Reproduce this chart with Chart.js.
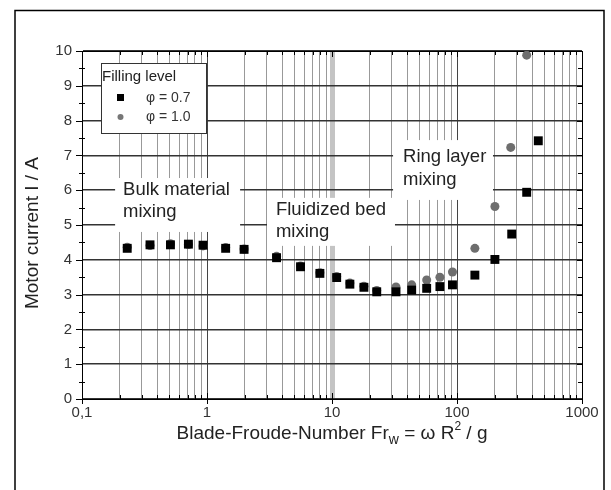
<!DOCTYPE html>
<html>
<head>
<meta charset="utf-8">
<title>Motor current vs Blade-Froude-Number</title>
<script src="https://cdn.jsdelivr.net/npm/chart.js"></script>
<style>
  body { margin: 0; background: #fff; }
</style>
</head>
<body>
<canvas id="myChart" width="611" height="490"></canvas>

<script>
// filling level 0.7 (black squares)
const froude07 = [0.23, 0.35, 0.51, 0.71, 0.93, 1.41, 1.98, 3.6, 5.6, 8.0, 10.9, 13.9, 18, 22.8,
                  32.5, 43.4, 57.2, 73, 92, 139, 201, 274, 361, 447];
const current07 = [4.33, 4.43, 4.43, 4.45, 4.42, 4.33, 4.30, 4.06, 3.80, 3.61, 3.49, 3.30, 3.21, 3.08,
                   3.08, 3.13, 3.18, 3.23, 3.28, 3.56, 4.01, 4.74, 5.94, 7.42];
// filling level 1.0 (grey circles)
const froude10 = [0.23, 0.35, 0.51, 0.71, 0.93, 1.41, 1.98, 3.6, 5.6, 8.0, 10.9, 13.9, 18, 22.8,
                  32.5, 43.4, 57.2, 73, 92, 139, 201, 269, 361];
const current10 = [4.36, 4.41, 4.46, 4.44, 4.40, 4.35, 4.31, 4.10, 3.82, 3.63, 3.52, 3.33, 3.24, 3.12,
                   3.22, 3.28, 3.42, 3.50, 3.65, 4.33, 5.53, 7.23, 9.88];

const seriesLabels = ['\u03C6 = 0.7', '\u03C6 = 1.0'];
const legendTitle = 'Filling level';
const xDecades = [0.1, 1, 10, 100, 1000];
const xMinor = [2, 3, 4, 5, 6, 7, 8, 9];
const yMax = 10;

const regions = [
  { lines: ['Bulk material', 'mixing'], x0: 0.184, x1: 1.84, yTop: 6.35, yBot: 4.80, tx: 0.213, ty: [6.01, 5.37] },
  { lines: ['Fluidized bed', 'mixing'], x0: 3.02, x1: 31.9, yTop: 5.78, yBot: 4.40, tx: 3.56, ty: [5.43, 4.80] },
  { lines: ['Ring layer', 'mixing'], x0: 30.8, x1: 194, yTop: 7.44, yBot: 5.72, tx: 37, ty: [6.95, 6.29] }
];

// all vertical grid positions: decades plus 2..9 inside each decade
const xGrid = [];
for (let d = 0; d < xDecades.length; d++) {
  xGrid.push(xDecades[d]);
  if (d < xDecades.length - 1) xMinor.forEach(m => xGrid.push(+(m * xDecades[d]).toPrecision(3)));
}

const FONT = "'Liberation Sans', Arial, sans-serif";

const decorations = {
  id: 'decorations',
  beforeDatasetsDraw(chart) {
    const { ctx, chartArea: a, scales: { x, y } } = chart;
    ctx.save();

    // white label boxes covering the grid
    ctx.font = '18.5px ' + FONT;
    ctx.textBaseline = 'middle';
    regions.forEach(r => {
      const l = x.getPixelForValue(r.x0), rr = x.getPixelForValue(r.x1);
      const t = y.getPixelForValue(r.yTop), b = y.getPixelForValue(r.yBot);
      ctx.fillStyle = '#fff';
      ctx.fillRect(l, t, rr - l, b - t);
      ctx.fillStyle = '#222';
      r.lines.forEach((s, i) => ctx.fillText(s, x.getPixelForValue(r.tx), y.getPixelForValue(r.ty[i])));
    });

    // legend box
    const lx = a.left + 19, ly = a.top + 12;
    ctx.fillStyle = '#fff';
    ctx.fillRect(lx, ly, 105, 70);
    ctx.strokeStyle = '#333';
    ctx.lineWidth = 1;
    ctx.strokeRect(lx + 0.5, ly + 0.5, 105, 70);
    ctx.fillStyle = '#222';
    ctx.font = '15px ' + FONT;
    ctx.fillText(legendTitle, lx + 1, ly + 14);
    ctx.fillStyle = '#000';
    ctx.fillRect(lx + 16, ly + 31, 7, 7);
    ctx.fillStyle = '#777';
    ctx.beginPath();
    ctx.arc(lx + 19.5, ly + 54, 3, 0, Math.PI * 2);
    ctx.fill();
    ctx.fillStyle = '#333';
    ctx.font = '14px ' + FONT;
    ctx.fillText(seriesLabels[0], lx + 45, ly + 35);
    ctx.fillText(seriesLabels[1], lx + 45, ly + 54);

    // top and right axis lines
    ctx.strokeStyle = '#000';
    ctx.beginPath();
    ctx.moveTo(a.left, a.top + 0.5); ctx.lineTo(a.right, a.top + 0.5);
    ctx.moveTo(a.right + 0.5, a.top); ctx.lineTo(a.right + 0.5, a.bottom);
    ctx.stroke();

    // tick marks
    ctx.beginPath();
    for (let v = 0; v <= yMax; v += 0.5) {
      const py = Math.round(y.getPixelForValue(v)) + 0.5;
      if (Number.isInteger(v)) {
        ctx.moveTo(a.left - 6, py); ctx.lineTo(a.left, py);
        ctx.moveTo(a.right - 5, py); ctx.lineTo(a.right, py);
      } else {
        ctx.moveTo(a.left - 3, py); ctx.lineTo(a.left + 3, py);
        ctx.moveTo(a.right - 4, py); ctx.lineTo(a.right, py);
      }
    }
    xGrid.forEach(v => {
      const px = Math.round(x.getPixelForValue(v)) + 0.5;
      if (xDecades.includes(v)) {
        ctx.moveTo(px, a.bottom - 6); ctx.lineTo(px, a.bottom + 5);
        ctx.moveTo(px, a.top); ctx.lineTo(px, a.top + 6);
      } else {
        ctx.moveTo(px, a.bottom - 4); ctx.lineTo(px, a.bottom);
        ctx.moveTo(px, a.top); ctx.lineTo(px, a.top + 4);
      }
    });
    ctx.stroke();
    ctx.restore();
  },
  afterDraw(chart) {
    const { ctx, chartArea: a } = chart;
    ctx.save();
    ctx.fillStyle = '#222';
    ctx.textBaseline = 'middle';

    // y title
    ctx.font = '19px ' + FONT;
    ctx.translate(33, 233);
    ctx.rotate(-Math.PI / 2);
    ctx.textAlign = 'center';
    ctx.fillText('Motor current I / A', 0, 0);
    ctx.setTransform(1, 0, 0, 1, 0, 0);

    // x title with subscript and superscript
    const parts = [
      { t: 'Blade-Froude-Number Fr', s: 19, dy: 0 },
      { t: 'w', s: 14, dy: 6 },
      { t: ' = \u03C9 R', s: 19, dy: 0 },
      { t: '2', s: 12, dy: -7 },
      { t: ' / g', s: 19, dy: 0 }
    ];
    ctx.textAlign = 'left';
    let w = 0;
    parts.forEach(p => { ctx.font = p.s + 'px ' + FONT; w += ctx.measureText(p.t).width; });
    let cx = (a.left + a.right) / 2 - w / 2;
    parts.forEach(p => {
      ctx.font = p.s + 'px ' + FONT;
      ctx.fillText(p.t, cx, 434 + p.dy);
      cx += ctx.measureText(p.t).width;
    });

    // outer frame
    ctx.strokeStyle = '#000';
    ctx.lineWidth = 1.5;
    ctx.beginPath();
    ctx.moveTo(15, 490); ctx.lineTo(15, 10.5); ctx.lineTo(604, 10.5); ctx.lineTo(604, 490);
    ctx.stroke();
    ctx.restore();
  }
};

const ctx = document.getElementById('myChart');
new Chart(ctx, {
  type: 'scatter',
  data: {
    datasets: [{
      label: seriesLabels[0],
      data: froude07.map((v, i) => ({ x: v, y: current07[i] })),
      pointStyle: 'rect',
      pointRadius: 6.3,
      backgroundColor: '#000',
      borderWidth: 0
    }, {
      label: seriesLabels[1],
      data: froude10.map((v, i) => ({ x: v, y: current10[i] })),
      pointStyle: 'circle',
      pointRadius: 4.5,
      backgroundColor: '#6e6e6e',
      borderWidth: 0
    }]
  },
  options: {
    responsive: false,
    animation: false,
    devicePixelRatio: 1,
    layout: { padding: { top: 51, right: 29, left: 0, bottom: 0 } },
    plugins: { legend: { display: false }, tooltip: { enabled: false } },
    scales: {
      x: {
        type: 'logarithmic',
        min: 0.1,
        max: 1000,
        afterBuildTicks(scale) {
          scale.ticks = xGrid.map(v => ({ value: v, major: xDecades.includes(v) }));
        },
        afterFit(scale) { scale.height = 91; },
        ticks: {
          autoSkip: false,
          maxRotation: 0,
          padding: 5,
          color: '#333',
          font: { family: FONT, size: 15 },
          callback: v => xDecades.includes(v) ? String(v).replace('.', ',') : ''
        },
        grid: {
          drawTicks: false,
          color: c => {
            const v = c.tick && c.tick.value;
            if (v === 10) return '#c4c4c4';
            if (v === 1 || v === 100) return '#444';
            return '#999';
          },
          lineWidth: c => (c.tick && c.tick.value === 10) ? 5 : 1
        },
        border: { color: '#000', width: 1 }
      },
      y: {
        min: 0,
        max: yMax,
        afterFit(scale) { scale.width = 82; },
        ticks: {
          stepSize: 0.5,
          padding: 10,
          color: '#333',
          font: { family: FONT, size: 15 },
          callback: v => Number.isInteger(v) ? v : ''
        },
        grid: {
          drawTicks: false,
          color: c => (c.tick && Number.isInteger(c.tick.value)) ? '#333' : 'rgba(0,0,0,0)',
          lineWidth: 1.5
        },
        border: { color: '#000', width: 1 }
      }
    }
  },
  plugins: [decorations]
});
</script>

</body>
</html>
